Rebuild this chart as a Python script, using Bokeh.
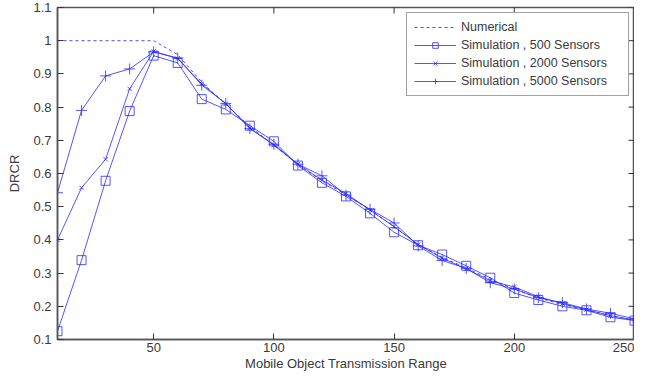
import math
from bokeh.plotting import figure
from bokeh.models import FixedTicker, CustomJSTickFormatter, Range1d, Legend, LegendItem
from bokeh.embed import file_html
from bokeh.resources import INLINE

# ---- data ----
ranges = [10, 20, 30, 40, 50, 60, 70, 80, 90, 100, 110, 120, 130, 140, 150,
          160, 170, 180, 190, 200, 210, 220, 230, 240, 250]
numerical = [1.0, 1.0, 1.0, 1.0, 1.0, 0.958, 0.875, 0.808, 0.742, 0.685, 0.627, 0.578, 0.536,
             0.490, 0.440, 0.386, 0.347, 0.316, 0.281, 0.252, 0.225, 0.206, 0.189, 0.172, 0.158]
sim_500 = [0.125, 0.339, 0.578, 0.788, 0.955, 0.933, 0.824, 0.793, 0.744, 0.697, 0.624, 0.572, 0.531,
           0.480, 0.423, 0.384, 0.356, 0.322, 0.286, 0.240, 0.219, 0.200, 0.188, 0.167, 0.157]
sim_2000 = [0.400, 0.557, 0.643, 0.855, 0.968, 0.946, 0.870, 0.810, 0.737, 0.685, 0.628, 0.580, 0.540,
            0.490, 0.440, 0.386, 0.345, 0.313, 0.277, 0.258, 0.229, 0.208, 0.190, 0.172, 0.158]
sim_5000 = [0.542, 0.790, 0.894, 0.915, 0.966, 0.948, 0.866, 0.811, 0.735, 0.688, 0.628, 0.593, 0.535,
            0.492, 0.451, 0.382, 0.338, 0.314, 0.271, 0.252, 0.226, 0.211, 0.192, 0.179, 0.162]
x_ticks = [50, 100, 150, 200, 250]
y_ticks = [0.1, 0.2, 0.3, 0.4, 0.5, 0.6, 0.7, 0.8, 0.9, 1.0, 1.1]
x_min, x_max = 10, 250
y_min, y_max = 0.1, 1.1
labels = ["Numerical", "Simulation , 500 Sensors", "Simulation , 2000 Sensors", "Simulation , 5000 Sensors"]
x_title = "Mobile Object Transmission Range"
y_title = "DRCR"

FONT = "Liberation Sans"
TXT = "#3a3a3a"
BLUE = "#2a2aff"
AX = "#555555"

p = figure(width=634, height=373, output_backend="svg", toolbar_location=None,
           x_range=Range1d(x_min, x_max), y_range=Range1d(y_min, y_max),
           min_border_left=57, min_border_right=0, min_border_top=7, min_border_bottom=30)
p.grid.visible = False
p.outline_line_color = AX
p.outline_line_width = 1.5
p.background_fill_color = "white"
p.border_fill_color = "white"

def style_axis(ax):
    ax.axis_line_color = AX
    ax.axis_line_width = 1.5
    ax.major_tick_in = 6
    ax.major_tick_out = 0
    ax.minor_tick_in = 0
    ax.minor_tick_out = 0
    ax.major_tick_line_color = "#333333"
    ax.major_label_text_font = FONT
    ax.major_label_text_color = TXT
    ax.major_label_text_font_size = "13px"
    ax.axis_label_text_font = FONT
    ax.axis_label_text_font_size = "13px"
    ax.axis_label_text_font_style = "normal"
    ax.axis_label_text_color = TXT

xax = p.xaxis[0]
xax.ticker = FixedTicker(ticks=x_ticks)
style_axis(xax)
xax.major_label_standoff = 3
xax.axis_label = x_title
xax.axis_label_standoff = 1

yax = p.yaxis[0]
yax.ticker = FixedTicker(ticks=y_ticks)
yax.formatter = CustomJSTickFormatter(code="return tick.toFixed(1).replace(/\\.0$/, '');")
style_axis(yax)
yax.major_label_standoff = 6
yax.axis_label = y_title
yax.axis_label_standoff = 8

# mirrored inward ticks on the top and right edges of the box
p.scatter(x_ticks, [y_max] * len(x_ticks), marker="dash", angle=math.pi / 2, size=12,
          line_color="#333333", line_width=1)
p.scatter([x_max] * len(y_ticks), y_ticks, marker="dash", size=12,
          line_color="#333333", line_width=1)

r_num = p.line(ranges, numerical, line_color=BLUE, line_width=1, line_dash="3 3", line_alpha=0.85)
r5_l = p.line(ranges, sim_500, line_color=BLUE, line_width=1, line_alpha=0.8)
r5_m = p.scatter(ranges, sim_500, marker="square", size=9, line_color=BLUE, fill_color=None, line_alpha=0.8)
r20_l = p.line(ranges, sim_2000, line_color=BLUE, line_width=1, line_alpha=0.8)
r20_m = p.scatter(ranges, sim_2000, marker="x", size=6, line_color=BLUE, line_alpha=0.8)
r50_l = p.line(ranges, sim_5000, line_color=BLUE, line_width=1, line_alpha=0.8)
r50_m = p.scatter(ranges, sim_5000, marker="cross", size=11, line_color=BLUE, line_alpha=0.8)

legend = Legend(items=[
    LegendItem(label=labels[0], renderers=[r_num]),
    LegendItem(label=labels[1], renderers=[r5_l, r5_m]),
    LegendItem(label=labels[2], renderers=[r20_l, r20_m]),
    LegendItem(label=labels[3], renderers=[r50_l, r50_m]),
], location="top_right")
legend.margin = 5
legend.padding = 7
legend.spacing = 4
legend.label_height = 14
legend.glyph_height = 14
legend.glyph_width = 42
legend.label_standoff = 5
legend.label_width = 160
legend.label_text_font = FONT
legend.label_text_font_size = "12.5px"
legend.label_text_color = TXT
legend.border_line_color = "#444444"
legend.border_line_width = 1
legend.background_fill_color = "white"
legend.background_fill_alpha = 1
p.add_layout(legend, "center")

open("out.html", "w").write(file_html(p, INLINE))
